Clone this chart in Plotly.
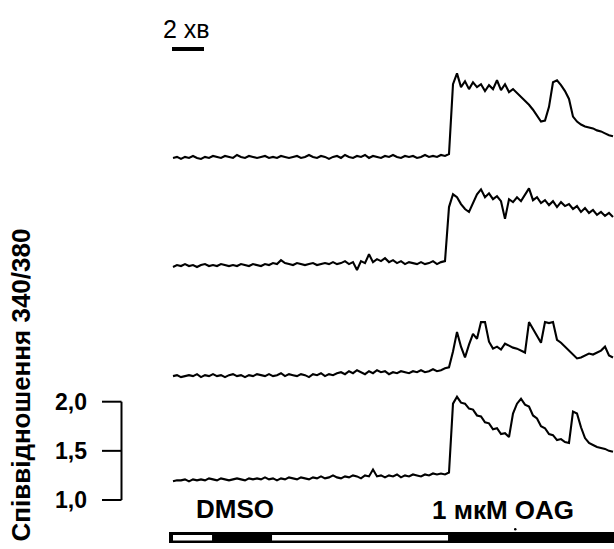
import plotly.graph_objects as go

W, H = 614, 549

# ---------------- data ----------------
time_min = [
    0, 0.25, 0.5, 0.75, 1, 1.25, 1.5, 1.75, 2, 2.25,
    2.5, 2.75, 3, 3.25, 3.5, 3.75, 4, 4.25, 4.5, 4.75,
    5, 5.25, 5.5, 5.75, 6, 6.25, 6.5, 6.75, 7, 7.25,
    7.5, 7.75, 8, 8.25, 8.5, 8.75, 9, 9.25, 9.5, 9.75,
    10, 10.25, 10.5, 10.75, 11, 11.25, 11.5, 11.75, 12, 12.25,
    12.5, 12.75, 13, 13.25, 13.5, 13.75, 14, 14.25, 14.5, 14.75,
    15, 15.25, 15.5, 15.75, 16, 16.25, 16.5, 16.75, 17, 17.25,
    17.5, 17.75, 18, 18.25, 18.5, 18.75, 19, 19.25, 19.5, 19.75,
    20, 20.25, 20.5, 20.75, 21, 21.25, 21.5, 21.75, 22, 22.25,
    22.5, 22.75, 23, 23.25, 23.5, 23.75, 24, 24.25, 24.5, 24.75,
    25, 25.25, 25.5, 25.75, 26, 26.25, 26.5, 26.75, 27, 27.25,
    27.5,
]

cell1 = [
    1.20, 1.21, 1.19, 1.21, 1.20, 1.22, 1.20, 1.19, 1.21, 1.20,
    1.22, 1.21, 1.20, 1.22, 1.21, 1.20, 1.23, 1.21, 1.20, 1.22,
    1.21, 1.20, 1.21, 1.22, 1.20, 1.21, 1.20, 1.22, 1.21, 1.20,
    1.21, 1.22, 1.20, 1.21, 1.23, 1.21, 1.20, 1.22, 1.21, 1.19,
    1.21, 1.22, 1.20, 1.23, 1.21, 1.20, 1.22, 1.21, 1.23, 1.20,
    1.22, 1.21, 1.20, 1.22, 1.21, 1.23, 1.21, 1.20, 1.22, 1.21,
    1.22, 1.20, 1.21, 1.23, 1.21, 1.22, 1.21, 1.23, 1.22, 1.24,
    1.95, 2.06, 1.92, 1.98, 1.90, 1.97, 1.92, 1.95, 1.88, 1.94,
    1.90, 1.99, 1.89, 1.95, 1.87, 1.90, 1.86, 1.82, 1.79, 1.74,
    1.69, 1.63, 1.57, 1.58, 1.72, 1.97, 1.99, 1.94, 1.88, 1.80,
    1.62, 1.57, 1.54, 1.52, 1.51, 1.50, 1.48, 1.47, 1.45, 1.43,
    1.42,
]

cell2 = [
    1.19, 1.21, 1.20, 1.22, 1.20, 1.21, 1.19, 1.21, 1.22, 1.20,
    1.21, 1.20, 1.22, 1.21, 1.20, 1.21, 1.20, 1.22, 1.21, 1.20,
    1.22, 1.21, 1.20, 1.22, 1.21, 1.23, 1.22, 1.26, 1.23, 1.22,
    1.21, 1.23, 1.22, 1.21, 1.22, 1.23, 1.21, 1.22, 1.23, 1.22,
    1.24, 1.22, 1.23, 1.25, 1.22, 1.24, 1.16, 1.25, 1.23, 1.32,
    1.24, 1.27, 1.25, 1.28, 1.24, 1.26, 1.23, 1.25, 1.22, 1.24,
    1.23, 1.22, 1.24, 1.22, 1.23, 1.25, 1.22, 1.24, 1.25, 1.80,
    1.93, 1.90, 1.83, 1.78, 1.75, 1.84, 1.93, 1.98, 1.90, 1.94,
    1.88, 1.91, 1.86, 1.68, 1.88, 1.85, 1.90, 1.86, 1.92, 1.99,
    1.87, 1.90, 1.84, 1.87, 1.82, 1.86, 1.80, 1.85, 1.81, 1.83,
    1.78, 1.81, 1.75, 1.79, 1.74, 1.77, 1.72, 1.75, 1.71, 1.74,
    1.70,
]

cell3 = [
    1.20, 1.21, 1.19, 1.20, 1.21, 1.20, 1.22, 1.19, 1.21, 1.20,
    1.22, 1.20, 1.21, 1.19, 1.21, 1.22, 1.20, 1.21, 1.19, 1.21,
    1.20, 1.22, 1.21, 1.20, 1.22, 1.20, 1.21, 1.23, 1.20, 1.22,
    1.21, 1.20, 1.22, 1.21, 1.19, 1.22, 1.21, 1.23, 1.20, 1.22,
    1.21, 1.23, 1.24, 1.22, 1.25, 1.23, 1.26, 1.24, 1.22, 1.25,
    1.23, 1.26, 1.24, 1.25, 1.22, 1.24, 1.23, 1.25, 1.24, 1.23,
    1.25, 1.24, 1.26, 1.24, 1.25, 1.27, 1.25, 1.26, 1.28, 1.29,
    1.45, 1.65, 1.50, 1.39, 1.52, 1.63, 1.58, 1.75, 1.75, 1.55,
    1.48, 1.50, 1.47, 1.53, 1.51, 1.49, 1.48, 1.46, 1.44, 1.75,
    1.68, 1.60, 1.54, 1.75, 1.74, 1.75, 1.57, 1.54, 1.50, 1.45,
    1.42, 1.38, 1.39, 1.41, 1.43, 1.42, 1.44, 1.46, 1.50, 1.41,
    1.39,
]

cell4 = [
    1.19, 1.20, 1.20, 1.21, 1.19, 1.21, 1.20, 1.21, 1.20, 1.22,
    1.21, 1.20, 1.22, 1.21, 1.20, 1.21, 1.22, 1.21, 1.20, 1.22,
    1.21, 1.22, 1.21, 1.23, 1.21, 1.22, 1.20, 1.22, 1.21, 1.23,
    1.22, 1.21, 1.23, 1.22, 1.21, 1.23, 1.22, 1.24, 1.22, 1.23,
    1.25, 1.23, 1.22, 1.24, 1.23, 1.25, 1.24, 1.22, 1.25, 1.24,
    1.31, 1.24, 1.25, 1.23, 1.25, 1.24, 1.26, 1.23, 1.25, 1.24,
    1.26, 1.25, 1.24, 1.26, 1.25, 1.27, 1.26, 1.27, 1.26, 1.28,
    1.98, 2.05, 1.99, 1.98, 1.93, 1.92, 1.86, 1.85, 1.79, 1.78,
    1.72, 1.73, 1.67, 1.68, 1.64, 1.88, 1.98, 2.03, 1.97, 1.95,
    1.86, 1.83, 1.75, 1.73, 1.67, 1.66, 1.61, 1.62, 1.59, 1.58,
    1.90, 1.88, 1.74, 1.63, 1.58, 1.56, 1.54, 1.53, 1.52, 1.50,
    1.49,
]

cells = [cell1, cell2, cell3, cell4]
cell_offsets = [3.28, 2.18, 1.06, 0.0]   # vertical stacking of the traces

scale_ticks = [1.0, 1.5, 2.0]
scale_labels = ["1,0", "1,5", "2,0"]
time_bar_min = 2
time_bar_label = "2 хв"

# protocol bar: (fill, start min, end min)
protocol = [("white", 0.0, 2.44), ("black", 2.44, 6.19),
            ("white", 6.19, 17.19), ("black", 17.19, 28.0)]
protocol_labels = ["DMSO", "1 мкМ OAG"]
y_title = "Співвідношення 340/380"

# ---------------- geometry helpers ----------------
X0_PX, PX_PER_MIN = 173.0, 16.0
Y1_PX, PX_PER_UNIT = 500.0, 98.3


def px2t(px):
    return (px - X0_PX) / PX_PER_MIN


def py2r(py):
    return 1.0 + (Y1_PX - py) / PX_PER_UNIT


def pxp(px):
    return px / W


def pyp(py):
    return 1.0 - py / H


FONT = "Arial, Liberation Sans, sans-serif"

fig = go.Figure()
for vals, off in zip(cells, cell_offsets):
    fig.add_trace(go.Scatter(
        x=time_min, y=[v + off for v in vals], mode="lines",
        line=dict(color="black", width=2.1), showlegend=False,
        hoverinfo="skip"))

shapes = []
# time scale bar
tb0 = px2t(172)
shapes.append(dict(type="line", xref="x", yref="y", x0=tb0, x1=tb0 + time_bar_min,
                   y0=py2r(49), y1=py2r(49), line=dict(color="black", width=4)))
# ratio calibration bar
xv = px2t(121.5)
shapes.append(dict(type="line", xref="x", yref="y", x0=xv, x1=xv,
                   y0=scale_ticks[0], y1=scale_ticks[-1],
                   line=dict(color="black", width=2)))
for tv in scale_ticks:
    shapes.append(dict(type="line", xref="x", yref="y", x0=px2t(102), x1=xv,
                       y0=tv, y1=tv, line=dict(color="black", width=2)))
# protocol bar
shapes.append(dict(type="rect", xref="x", yref="y", x0=px2t(169), x1=px2t(625),
                   y0=py2r(543), y1=py2r(532), fillcolor="black", line=dict(width=0),
                   layer="above"))
for fill, a, b in protocol:
    if fill == "white":
        shapes.append(dict(type="rect", xref="x", yref="y", x0=a, x1=b,
                           y0=py2r(540.5), y1=py2r(535), fillcolor="white",
                           line=dict(width=0), layer="above"))
# small dot artefact
shapes.append(dict(type="circle", xref="x", yref="y", x0=px2t(514), x1=px2t(516.5),
                   y0=py2r(530.5), y1=py2r(528), fillcolor="black", line=dict(width=0)))

ann = []
ann.append(dict(x=pxp(186), y=pyp(29), xref="paper", yref="paper", text=time_bar_label,
                showarrow=False, xanchor="center", yanchor="middle",
                font=dict(family=FONT, size=25, color="black")))
for tv, lab in zip(scale_ticks, scale_labels):
    ann.append(dict(x=pxp(89), y=tv, xref="paper", yref="y", text=lab,
                    showarrow=False, xanchor="right", yanchor="middle",
                    font=dict(family=FONT, size=23, color="black", weight="bold")))
ann.append(dict(x=pxp(234.5), y=pyp(509), xref="paper", yref="paper", text=protocol_labels[0],
                showarrow=False, xanchor="center", yanchor="middle",
                font=dict(family=FONT, size=26, color="black", weight="bold")))
ann.append(dict(x=pxp(502.5), y=pyp(509.5), xref="paper", yref="paper", text=protocol_labels[1],
                showarrow=False, xanchor="center", yanchor="middle",
                font=dict(family=FONT, size=26, color="black", weight="bold")))
ann.append(dict(x=pxp(20), y=pyp(385.5), xref="paper", yref="paper", text=y_title,
                showarrow=False, xanchor="center", yanchor="middle", textangle=-90,
                font=dict(family=FONT, size=26, color="black", weight="bold")))

fig.update_layout(
    width=W, height=H, autosize=False,
    margin=dict(l=0, r=0, t=0, b=0, pad=0),
    paper_bgcolor="white", plot_bgcolor="white",
    xaxis=dict(range=[px2t(0), px2t(W)], visible=False, fixedrange=True),
    yaxis=dict(range=[py2r(H), py2r(0)], visible=False, fixedrange=True),
    shapes=shapes, annotations=ann, showlegend=False,
)

fig.write_html("out.html", config={"displayModeBar": False},
               post_script="document.body.style.margin='0';document.body.style.overflow='hidden';")
